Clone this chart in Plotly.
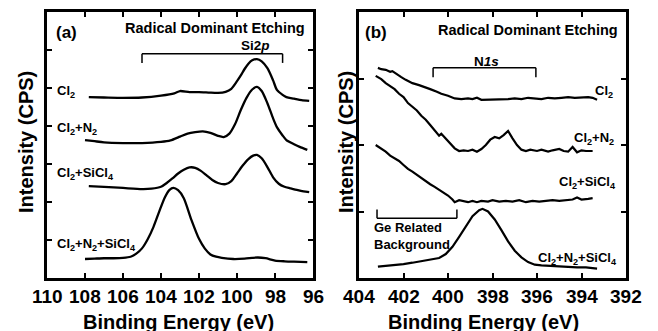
import plotly.graph_objects as go

W, H = 658, 331
FONT = "Liberation Sans, Arial, sans-serif"

# ---------------- Panel (a): Si2p ----------------
si_labels = ["Cl<sub>2</sub>", "Cl<sub>2</sub>+N<sub>2</sub>", "Cl<sub>2</sub>+SiCl<sub>4</sub>",
             "Cl<sub>2</sub>+N<sub>2</sub>+SiCl<sub>4</sub>"]

si_cl2_x = [107.8, 107.0, 106.0, 105.0, 104.0, 103.3, 103.0, 102.5, 102.0, 101.5, 101.0, 100.6, 100.3,
            100.0, 99.8, 99.6, 99.4, 99.2, 98.95, 98.7, 98.4, 98.1, 97.9, 97.6, 97.4, 97.0, 96.6, 96.2]
si_cl2_y = [4.76, 4.75, 4.74, 4.75, 4.80, 4.86, 4.92, 4.89, 4.89, 4.88, 4.87, 4.90, 4.98,
            5.18, 5.33, 5.50, 5.64, 5.73, 5.76, 5.70, 5.52, 5.20, 4.95, 4.82, 4.76, 4.72, 4.68, 4.66]

si_n2_x = [108.0, 107.5, 107.0, 106.0, 105.0, 104.0, 103.5, 103.0, 102.6, 102.2, 101.8, 101.4, 101.0,
           100.7, 100.4, 100.1, 99.8, 99.5, 99.2, 98.95, 98.7, 98.4, 98.1, 97.9, 97.6, 97.4, 97.0,
           96.7, 96.3]
si_n2_y = [3.63, 3.60, 3.57, 3.55, 3.55, 3.58, 3.62, 3.72, 3.80, 3.84, 3.86, 3.82, 3.74,
           3.71, 3.80, 4.05, 4.42, 4.74, 4.96, 5.03, 4.92, 4.60, 4.20, 3.97, 3.75, 3.63, 3.52,
           3.45, 3.37]

si_sicl4_x = [107.8, 107.0, 106.0, 105.0, 104.5, 104.0, 103.7, 103.4, 103.1, 102.8, 102.5, 102.2,
              101.9, 101.6, 101.3, 101.0, 100.6, 100.3, 100.0, 99.7, 99.4, 99.15, 98.95, 98.7,
              98.4, 98.1, 97.8, 97.5, 97.2, 96.8, 96.5, 96.2]
si_sicl4_y = [2.42, 2.40, 2.37, 2.34, 2.35, 2.40, 2.50, 2.62, 2.75, 2.85, 2.91, 2.90,
              2.82, 2.70, 2.58, 2.50, 2.47, 2.55, 2.75, 2.96, 3.13, 3.22, 3.24, 3.15,
              2.92, 2.65, 2.48, 2.40, 2.36, 2.31, 2.28, 2.26]

si_all_x = [108.0, 107.5, 107.0, 106.5, 106.0, 105.6, 105.3, 105.0, 104.7, 104.4, 104.1, 103.8,
            103.55, 103.35, 103.1, 102.8, 102.4, 102.0, 101.7, 101.4, 101.1, 100.8, 100.2,
            99.6, 99.2, 98.9, 98.5, 98.0, 97.5, 97.0, 96.3]
si_all_y = [0.50, 0.51, 0.52, 0.52, 0.53, 0.56, 0.64, 0.78, 1.02, 1.34, 1.74, 2.12,
            2.32, 2.37, 2.31, 2.10, 1.53, 1.03, 0.78, 0.62, 0.56, 0.53, 0.50,
            0.51, 0.53, 0.54, 0.52, 0.46, 0.44, 0.43, 0.42]

# ---------------- Panel (b): N1s ----------------
n_cl2_x = [403.15, 403.0, 402.8, 402.6, 402.5, 402.3, 402.1, 401.9, 401.6, 401.3, 401.0, 400.8,
           400.5, 400.3, 400.0, 399.7, 399.4, 399.1, 398.9, 398.7, 398.5, 398.2, 397.9, 397.6,
           397.3, 397.0, 396.7, 396.4, 396.1, 395.8, 395.5, 395.2, 394.9, 394.6, 394.3, 394.0,
           393.7, 393.5, 393.3]
n_cl2_y = [3.16, 3.14, 3.13, 3.10, 3.11, 3.06, 3.02, 2.98, 2.93, 2.90, 2.87, 2.84,
           2.80, 2.77, 2.74, 2.70, 2.69, 2.70, 2.69, 2.71, 2.68, 2.68, 2.69, 2.68,
           2.69, 2.70, 2.69, 2.71, 2.70, 2.69, 2.71, 2.70, 2.71, 2.72, 2.71, 2.72,
           2.72, 2.71, 2.68]

n_n2_x = [403.25, 403.0, 402.8, 402.6, 402.4, 402.2, 402.0, 401.8, 401.6, 401.4, 401.2, 401.0,
          400.8, 400.6, 400.4, 400.3, 400.1, 399.9, 399.7, 399.5, 399.3, 399.1, 398.9, 398.7,
          398.5, 398.3, 398.1, 397.9, 397.7, 397.5, 397.3, 397.1, 396.9, 396.7, 396.5, 396.3,
          396.0, 395.8, 395.5, 395.3, 395.0, 394.8, 394.6, 394.4, 394.2, 394.0, 393.8, 393.5]
n_n2_y = [3.04, 2.99, 2.93, 2.88, 2.84, 2.77, 2.72, 2.63, 2.58, 2.52, 2.44, 2.38,
          2.30, 2.22, 2.14, 2.17, 2.10, 2.03, 1.95, 1.91, 1.92, 1.91, 1.93, 1.90,
          1.94, 2.00, 2.08, 2.12, 2.10, 2.15, 2.21, 2.10, 2.00, 1.93, 1.91, 1.93,
          1.91, 1.93, 1.90, 1.92, 1.94, 1.91, 1.90, 1.97, 1.89, 1.92, 1.91, 1.91]

n_sicl4_x = [403.25, 403.0, 402.8, 402.6, 402.4, 402.2, 402.0, 401.8, 401.6, 401.4, 401.2, 401.0,
             400.8, 400.6, 400.4, 400.2, 400.0, 399.8, 399.7, 399.5, 399.3, 399.1, 398.9, 398.7,
             398.5, 398.2, 398.0, 397.7, 397.4, 397.1, 396.8, 396.5, 396.2, 395.9, 395.6, 395.3,
             395.0, 394.7, 394.4, 394.2, 394.0, 393.7, 393.5]
n_sicl4_y = [2.00, 1.95, 1.90, 1.84, 1.80, 1.76, 1.70, 1.64, 1.60, 1.55, 1.50, 1.45,
             1.41, 1.37, 1.33, 1.28, 1.24, 1.18, 1.14, 1.17, 1.15, 1.14, 1.16, 1.14,
             1.16, 1.15, 1.17, 1.15, 1.16, 1.15, 1.17, 1.14, 1.16, 1.15, 1.16, 1.17,
             1.16, 1.17, 1.18, 1.21, 1.18, 1.19, 1.20]

n_all_x = [403.15, 402.8, 402.4, 402.0, 401.6, 401.2, 400.8, 400.4, 400.1, 399.8, 399.5, 399.2,
           398.9, 398.6, 398.45, 398.2, 397.9, 397.6, 397.3, 397.0, 396.7, 396.4, 396.1, 395.8,
           395.4, 395.0, 394.6, 394.2, 393.8, 393.3]
n_all_y = [0.17, 0.18, 0.20, 0.21, 0.23, 0.25, 0.27, 0.30, 0.36, 0.47, 0.62, 0.78,
           0.93, 1.02, 1.04, 1.00, 0.88, 0.72, 0.55, 0.41, 0.31, 0.24, 0.20, 0.19,
           0.18, 0.18, 0.17, 0.16, 0.16, 0.14]

si_ticks = [110, 108, 106, 104, 102, 100, 98, 96]
n_ticks = [404, 402, 400, 398, 396, 394, 392]

# ---------------- figure ----------------
def px(x):
    return x / W

def py(y):
    return 1 - y / H

fig = go.Figure()
for xs, ys in [(si_cl2_x, si_cl2_y), (si_n2_x, si_n2_y), (si_sicl4_x, si_sicl4_y), (si_all_x, si_all_y)]:
    fig.add_trace(go.Scatter(x=xs, y=ys, mode="lines",
                             line=dict(color="black", width=2.3, shape="spline", smoothing=0.7),
                             xaxis="x", yaxis="y", showlegend=False, hoverinfo="skip"))
for xs, ys in [(n_cl2_x, n_cl2_y), (n_n2_x, n_n2_y), (n_sicl4_x, n_sicl4_y), (n_all_x, n_all_y)]:
    fig.add_trace(go.Scatter(x=xs, y=ys, mode="lines", line=dict(color="black", width=2.2),
                             xaxis="x2", yaxis="y2", showlegend=False, hoverinfo="skip"))

ydom = [py(278), py(12)]
common = dict(showline=True, linecolor="black", linewidth=2.5, mirror="ticks", ticks="inside",
              ticklen=5, tickwidth=2, tickcolor="black", showgrid=False, zeroline=False,
              automargin=False, fixedrange=True)

fig.update_layout(
    width=W, height=H, margin=dict(l=0, r=0, t=0, b=0),
    paper_bgcolor="white", plot_bgcolor="white",
    font=dict(family=FONT, color="black"),
    xaxis=dict(domain=[px(47), px(313)], range=[110, 96], tickvals=si_ticks,
               showticklabels=False, anchor="y", **common),
    yaxis=dict(domain=ydom, range=[0, 7], tickvals=[1, 2, 3, 4, 5, 6], showticklabels=False,
               anchor="x", **common),
    xaxis2=dict(domain=[px(359), px(626)], range=[404, 392], tickvals=n_ticks,
                showticklabels=False, anchor="y2", **common),
    yaxis2=dict(domain=ydom, range=[0, 4], tickvals=[1, 2, 3], showticklabels=False,
                anchor="x2", **common),
)

def bfont(size):
    return dict(family=FONT, size=size, color="black")

ann = []
def add(text, x, y, size, xanchor="center", yanchor="middle", angle=0, xref="paper"):
    ann.append(dict(text="<b>" + text + "</b>", x=(x if xref != "paper" else px(x)), y=py(y),
                    xref=xref, yref="paper", showarrow=False, align="left",
                    xanchor=xanchor, yanchor=yanchor, textangle=angle, font=bfont(size)))

# tick labels (placed at the axis tick values)
for t in si_ticks:
    add(str(t), t, 296, 19, xref="x")
for t in n_ticks:
    add(str(t), t, 296, 19, xref="x2")
# axis titles
add("Binding Energy (eV)", 178, 322, 20)
add("Binding Energy (eV)", 483, 322, 20)
add("Intensity (CPS)", 26, 142, 20, angle=-90)
add("Intensity (CPS)", 346, 142, 20, angle=-90)
# panel headers
add("(a)", 66, 33, 17)
add("(b)", 376, 33, 17)
add("Radical Dominant Etching", 215, 28, 14.5)
add("Radical Dominant Etching", 528, 30, 14.5)
add("Si2<i>p</i>", 255, 46, 13.5)
add("N<i>1s</i>", 487, 61, 13.5)
# curve labels
add(si_labels[0], 55, 91, 13, xanchor="left")
add(si_labels[1], 55, 128, 13, xanchor="left")
add(si_labels[2], 55, 174, 13, xanchor="left")
add(si_labels[3], 55, 244, 13, xanchor="left")
add(si_labels[0], 615, 91, 13, xanchor="right")
add(si_labels[1], 616, 138, 13, xanchor="right")
add(si_labels[2], 618, 183, 13, xanchor="right")
add(si_labels[3], 619, 258, 13, xanchor="right")
add("Ge Related<br>Background", 372, 236, 13, xanchor="left")
fig.update_layout(annotations=ann)

# brackets
def bracket(xref, yref, x0, x1, ytop, yend):
    lw = dict(color="black", width=1.5)
    return [
        dict(type="line", xref=xref, yref=yref, x0=x0, x1=x1, y0=ytop, y1=ytop, line=lw),
        dict(type="line", xref=xref, yref=yref, x0=x0, x1=x0, y0=ytop, y1=yend, line=lw),
        dict(type="line", xref=xref, yref=yref, x0=x1, x1=x1, y0=ytop, y1=yend, line=lw),
    ]

shapes = []
shapes += bracket("x", "y", 105.0, 97.6, 5.90, 5.66)
shapes += bracket("x2", "y2", 400.67, 396.05, 3.16, 3.02)
shapes += bracket("x2", "y2", 403.19, 399.6, 0.90, 1.03)
fig.update_layout(shapes=shapes)

fig.write_html("out.html", config={"displayModeBar": False},
               post_script="document.body.style.margin='0';document.body.style.overflow='hidden';")
